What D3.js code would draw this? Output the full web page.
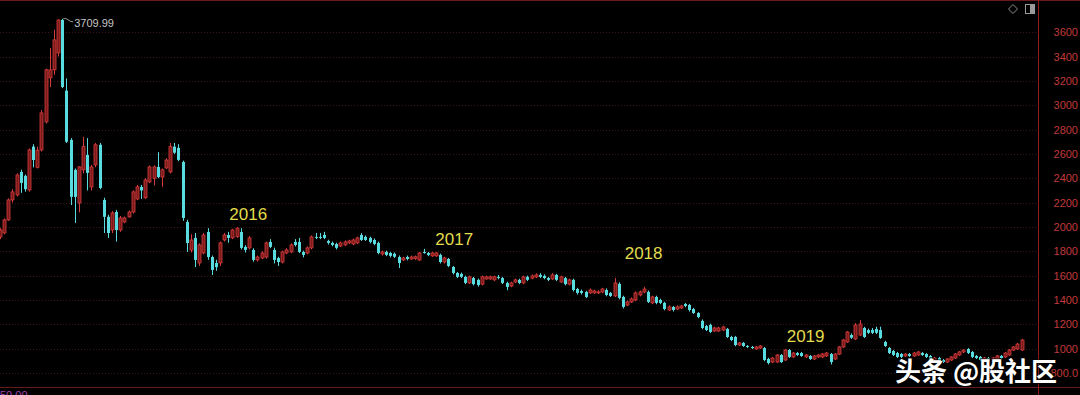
<!DOCTYPE html>
<html>
<head>
<meta charset="utf-8">
<script src="https://cdn.jsdelivr.net/npm/d3@7"></script>
<style>
  html, body { margin: 0; padding: 0; background: #000; }
  svg { display: block; }
</style>
</head>
<body>
<script>
// weekly candles, rows are [open, high, low, close]
const ohlcPart1 = [
  [1918, 1990, 1900, 1975], [1951, 2070, 1940, 2058], [2058, 2235, 2050, 2222], [2222, 2310, 2200, 2288],
  [2263, 2440, 2250, 2427], [2452, 2470, 2280, 2362], [2420, 2430, 2290, 2310], [2304, 2645, 2290, 2633],
  [2660, 2680, 2490, 2550], [2490, 2660, 2480, 2630], [2633, 2960, 2620, 2937], [2863, 3300, 2850, 3291],
  [3225, 3470, 3150, 3290], [3291, 3620, 3250, 3537], [3430, 3705, 3400, 3700], [3700, 3709.99, 3140, 3150],
  [3120, 3220, 2690, 2700], [2715, 2730, 2180, 2247], [2469, 2480, 2033, 2247], [2197, 2500, 2120, 2493],
  [2469, 2740, 2440, 2660], [2592, 2730, 2300, 2444], [2329, 2510, 2300, 2493], [2510, 2690, 2490, 2675],
  [2675, 2690, 2310, 2320], [2222, 2240, 1950, 2083], [2083, 2100, 1910, 1950], [1975, 2130, 1950, 2115],
  [2123, 2140, 1880, 1975], [1975, 2090, 1960, 2074], [2042, 2085, 2030, 2074], [2083, 2135, 2075, 2123],
  [2123, 2300, 2110, 2288], [2230, 2345, 2220, 2329], [2329, 2345, 2230, 2300], [2240, 2400, 2230, 2386],
  [2370, 2505, 2360, 2493], [2400, 2505, 2340, 2493], [2493, 2615, 2400, 2410], [2410, 2480, 2330, 2469],
  [2485, 2565, 2475, 2550], [2452, 2690, 2440, 2660], [2660, 2690, 2600, 2610], [2650, 2680, 2540, 2551],
  [2534, 2545, 2050, 2074], [2041, 2060, 1795, 1868], [1811, 1940, 1790, 1893], [1910, 1950, 1670, 1729],
  [1704, 1865, 1680, 1852], [1786, 1950, 1775, 1934]
];
const ohlcPart2 = [
  [1959, 1990, 1730, 1753], [1753, 1765, 1605, 1647], [1704, 1730, 1640, 1670], [1704, 1880, 1680, 1869],
  [1893, 1950, 1880, 1934], [1934, 1960, 1870, 1910], [1910, 1985, 1900, 1975], [1920, 2000, 1910, 1990],
  [1959, 1990, 1815, 1828], [1836, 1850, 1790, 1811], [1828, 1925, 1815, 1910], [1811, 1825, 1715, 1729],
  [1729, 1765, 1715, 1753], [1745, 1800, 1735, 1786], [1753, 1880, 1740, 1869], [1877, 1900, 1825, 1836],
  [1811, 1830, 1700, 1729], [1745, 1755, 1680, 1712], [1712, 1805, 1700, 1795], [1786, 1825, 1775, 1811],
  [1795, 1865, 1785, 1852], [1877, 1900, 1840, 1852], [1877, 1910, 1785, 1795], [1795, 1805, 1750, 1770],
  [1786, 1840, 1775, 1828], [1828, 1930, 1815, 1918], [1918, 1950, 1900, 1910], [1918, 1950, 1900, 1910],
  [1934, 1960, 1900, 1910], [1885, 1895, 1855, 1869], [1869, 1880, 1840, 1852], [1860, 1870, 1815, 1828],
  [1844, 1880, 1835, 1869], [1852, 1890, 1845, 1877], [1869, 1895, 1860, 1885], [1860, 1905, 1850, 1893],
  [1869, 1920, 1860, 1910], [1934, 1950, 1885, 1893], [1918, 1930, 1885, 1893], [1910, 1920, 1865, 1877],
  [1893, 1905, 1850, 1860], [1869, 1880, 1775, 1786], [1778, 1805, 1765, 1795], [1795, 1805, 1760, 1770],
  [1786, 1795, 1750, 1762], [1780, 1790, 1745, 1755], [1753, 1765, 1663, 1704], [1729, 1755, 1720, 1745],
  [1753, 1765, 1725, 1737], [1737, 1765, 1730, 1753]
];
const ohlcPart3 = [
  [1740, 1765, 1730, 1755], [1729, 1795, 1720, 1786], [1795, 1820, 1780, 1786], [1786, 1795, 1760, 1770],
  [1762, 1795, 1755, 1786], [1762, 1795, 1755, 1786], [1770, 1780, 1700, 1712], [1712, 1755, 1700, 1745],
  [1737, 1745, 1670, 1680], [1671, 1680, 1610, 1622], [1622, 1630, 1580, 1590], [1614, 1625, 1580, 1590],
  [1590, 1600, 1530, 1540], [1540, 1600, 1530, 1590], [1580, 1590, 1520, 1530], [1565, 1575, 1510, 1523],
  [1530, 1600, 1520, 1590], [1573, 1600, 1565, 1590], [1573, 1600, 1565, 1590], [1565, 1600, 1555, 1590],
  [1590, 1605, 1570, 1580], [1580, 1590, 1530, 1540], [1540, 1550, 1480, 1507], [1515, 1550, 1505, 1540],
  [1548, 1575, 1540, 1565], [1565, 1575, 1530, 1540], [1540, 1600, 1530, 1590], [1590, 1600, 1555, 1565],
  [1580, 1610, 1570, 1598], [1590, 1620, 1580, 1606], [1606, 1620, 1580, 1590], [1598, 1610, 1570, 1580],
  [1580, 1590, 1555, 1565], [1573, 1620, 1565, 1606], [1606, 1615, 1555, 1565], [1548, 1600, 1540, 1590],
  [1580, 1590, 1520, 1530], [1530, 1575, 1520, 1565], [1565, 1575, 1470, 1482], [1490, 1500, 1445, 1458],
  [1474, 1485, 1445, 1458], [1466, 1475, 1415, 1425], [1458, 1495, 1450, 1482], [1458, 1485, 1450, 1474],
  [1458, 1480, 1450, 1466], [1466, 1500, 1455, 1490], [1482, 1495, 1430, 1441], [1458, 1465, 1425, 1433],
  [1433, 1580, 1425, 1540], [1532, 1545, 1405, 1417]
];
const ohlcPart4 = [
  [1425, 1435, 1330, 1343], [1359, 1395, 1350, 1384], [1384, 1420, 1375, 1408], [1400, 1470, 1390, 1458],
  [1441, 1478, 1430, 1466], [1466, 1510, 1455, 1490], [1466, 1478, 1375, 1384], [1376, 1435, 1365, 1425],
  [1425, 1435, 1365, 1376], [1400, 1410, 1365, 1376], [1376, 1385, 1315, 1326], [1318, 1355, 1310, 1343],
  [1343, 1350, 1305, 1318], [1326, 1355, 1318, 1343], [1334, 1360, 1325, 1351], [1367, 1375, 1340, 1351],
  [1359, 1368, 1305, 1318], [1326, 1335, 1285, 1293], [1293, 1300, 1250, 1260], [1228, 1240, 1160, 1170],
  [1186, 1195, 1145, 1153], [1195, 1205, 1128, 1137], [1145, 1180, 1138, 1170], [1145, 1180, 1138, 1170],
  [1153, 1188, 1145, 1178], [1162, 1170, 1088, 1096], [1096, 1105, 1062, 1071], [1096, 1105, 1020, 1030],
  [1030, 1055, 1022, 1047], [1047, 1055, 1014, 1022], [1022, 1030, 1005, 1014], [1014, 1022, 997, 1005],
  [997, 1022, 990, 1014], [1005, 1030, 997, 1022], [1005, 1014, 897, 907], [915, 925, 870, 882],
  [890, 932, 882, 923], [890, 956, 882, 948], [948, 956, 882, 890], [907, 997, 899, 989],
  [989, 997, 923, 932], [932, 973, 923, 964], [964, 973, 940, 948], [964, 973, 932, 940],
  [932, 956, 923, 948], [940, 948, 907, 915], [915, 948, 907, 940], [932, 956, 923, 948],
  [932, 964, 923, 956], [940, 973, 932, 964]
];
const ohlcPart5 = [
  [956, 964, 870, 890], [915, 964, 907, 956], [956, 1022, 948, 1014], [1014, 1080, 1005, 1071],
  [1055, 1145, 1047, 1137], [1112, 1125, 1080, 1090], [1080, 1210, 1071, 1195], [1112, 1235, 1104, 1203],
  [1170, 1180, 1088, 1096], [1153, 1165, 1120, 1130], [1153, 1170, 1120, 1130], [1162, 1180, 1120, 1130],
  [1153, 1180, 1080, 1088], [1055, 1065, 1014, 1022], [1005, 1014, 956, 964], [981, 990, 940, 948],
  [964, 973, 923, 932], [956, 964, 923, 932], [940, 964, 932, 956], [956, 964, 932, 940],
  [940, 973, 932, 964], [948, 981, 940, 973], [964, 973, 940, 948], [956, 964, 923, 932],
  [940, 948, 899, 907], [907, 932, 899, 923], [923, 932, 890, 899], [907, 915, 882, 890],
  [890, 923, 882, 915], [907, 940, 899, 932], [923, 964, 915, 956], [948, 981, 940, 973],
  [973, 997, 964, 989], [997, 1005, 956, 964], [973, 981, 923, 932], [940, 948, 915, 923],
  [932, 940, 899, 907], [907, 932, 899, 923], [923, 932, 890, 899], [907, 932, 899, 923],
  [915, 948, 907, 940], [940, 948, 915, 923], [932, 973, 923, 964], [948, 997, 940, 989],
  [989, 1022, 981, 1014], [997, 1047, 989, 1038], [989, 1080, 981, 1071]
];

const tickValues = [800, 1000, 1200, 1400, 1600, 1800, 2000, 2200, 2400, 2600, 2800, 3000, 3200, 3400, 3600];
const tickLabels = ["800.0", "1000", "1200", "1400", "1600", "1800", "2000", "2200", "2400", "2600", "2800", "3000", "3200", "3400", "3600"];

const yearText = ["2016", "2017", "2018", "2019"];
const yearAtCandle = [55.6, 105.2, 150.8, 189.8];
const yearAtPrice = [2058, 1852, 1737, 1055];

const candles = [...ohlcPart1, ...ohlcPart2, ...ohlcPart3, ...ohlcPart4, ...ohlcPart5]
  .map((r, i) => ({i: i, open: r[0], high: r[1], low: r[2], close: r[3]}));

const W = 1080, H = 395;
const axisX = 1038;

const svg = d3.select("body").append("svg")
  .attr("width", W)
  .attr("height", H)
  .style("background", "#000");

const x = d3.scaleBand()
  .domain(d3.range(candles.length))
  .range([-1.6, 1023.1])
  .paddingInner(0.28);

const y = d3.scaleLinear()
  .domain([800, 3600])
  .range([373, 32.2]);

// dotted grid
svg.append("g")
  .selectAll("line")
  .data(tickValues)
  .join("line")
  .attr("x1", 0)
  .attr("x2", axisX)
  .attr("y1", d => Math.round(y(d)) + 0.5)
  .attr("y2", d => Math.round(y(d)) + 0.5)
  .attr("stroke", "#3a1717")
  .attr("stroke-dasharray", "1,2");

// frame lines
svg.append("line")
  .attr("x1", 0).attr("x2", W)
  .attr("y1", 0.5).attr("y2", 0.5)
  .attr("stroke", "#6b1a1a");
svg.append("line")
  .attr("x1", 0).attr("x2", W)
  .attr("y1", 387.5).attr("y2", 387.5)
  .attr("stroke", "#6b1a1a");
svg.append("line")
  .attr("x1", axisX + 0.5).attr("x2", axisX + 0.5)
  .attr("y1", 0).attr("y2", H)
  .attr("stroke", "#8c1c1c");

// right axis labels
const yAxis = d3.axisRight(y)
  .tickValues(tickValues)
  .tickSize(0)
  .tickFormat((d, i) => tickLabels[i]);

const axisG = svg.append("g")
  .attr("transform", "translate(1078,0)")
  .call(yAxis);
axisG.select(".domain").remove();
axisG.selectAll("text")
  .attr("x", 0)
  .attr("text-anchor", "end")
  .attr("fill", "#c03a3a")
  .style("font-family", "'Liberation Sans', Arial, sans-serif")
  .style("font-size", "11px");

const upStroke = "#d63c3c";
const upFill = "#7a1a1a";
const downColor = "#58dcdf";
const cx = d => x(d.i) + x.bandwidth() / 2;

const cg = svg.append("g");

cg.selectAll("line.wick")
  .data(candles)
  .join("line")
  .attr("class", "wick")
  .attr("x1", d => Math.round(cx(d)) + 0.5)
  .attr("x2", d => Math.round(cx(d)) + 0.5)
  .attr("y1", d => y(d.high))
  .attr("y2", d => y(d.low))
  .attr("stroke", d => d.close >= d.open ? upStroke : downColor)
  .attr("stroke-width", 1);

cg.selectAll("rect.body")
  .data(candles)
  .join("rect")
  .attr("class", "body")
  .attr("x", d => Math.round(cx(d)) - 1)
  .attr("width", 3)
  .attr("y", d => y(Math.max(d.open, d.close)))
  .attr("height", d => Math.max(1, Math.abs(y(d.open) - y(d.close))))
  .attr("fill", d => d.close >= d.open ? upFill : downColor)
  .attr("stroke", d => d.close >= d.open ? upStroke : "none")
  .attr("stroke-width", 0.8);

// peak annotation
const peak = candles.reduce((a, b) => (b.high > a.high ? b : a));
const px = cx(peak), py = y(peak.high);
svg.append("path")
  .attr("d", `M${px + 1},${py} q3,-1 5,1 t5,2`)
  .attr("fill", "none")
  .attr("stroke", "#bdbdbd")
  .attr("stroke-width", 0.8);
svg.append("text")
  .attr("x", px + 12)
  .attr("y", py + 8)
  .text(d3.format(".2f")(peak.high))
  .style("fill", "#c4c4c4")
  .style("font-family", "'Liberation Sans', Arial, sans-serif")
  .style("font-size", "11px");

// year labels
svg.append("g")
  .selectAll("text")
  .data(yearText)
  .join("text")
  .attr("x", (d, i) => x(0) + yearAtCandle[i] * x.step())
  .attr("y", (d, i) => y(yearAtPrice[i]))
  .text(d => d)
  .style("fill", "#e3dc4b")
  .style("font-family", "'Liberation Sans', Arial, sans-serif")
  .style("font-size", "17px");

// toolbar icons top-right
svg.append("path")
  .attr("d", "M1013,4.5 L1017.5,9 L1013,13.5 L1008.5,9 Z")
  .attr("fill", "none")
  .attr("stroke", "#8c8c8c")
  .attr("stroke-width", 1);
svg.append("rect")
  .attr("x", 1025.5).attr("y", 4.5)
  .attr("width", 9).attr("height", 9)
  .attr("fill", "none")
  .attr("stroke", "#9a9a9a");
svg.append("rect")
  .attr("x", 1030).attr("y", 5)
  .attr("width", 4).attr("height", 8)
  .attr("fill", "#9a9a9a");

// bottom-left cut value
svg.append("text")
  .attr("x", 0)
  .attr("y", 399)
  .text("50.00")
  .style("fill", "#a040b0")
  .style("font-family", "'Liberation Sans', Arial, sans-serif")
  .style("font-size", "11px");

// watermark
svg.append("text")
  .attr("x", 895)
  .attr("y", 381)
  .text("头条 @股社区")
  .attr("paint-order", "stroke")
  .attr("stroke", "rgba(0,0,0,0.7)")
  .attr("stroke-width", 2)
  .style("fill", "#ffffff")
  .style("font-family", "'Noto Sans CJK SC', sans-serif")
  .style("font-weight", "700")
  .style("font-size", "26px");
</script>
</body>
</html>
